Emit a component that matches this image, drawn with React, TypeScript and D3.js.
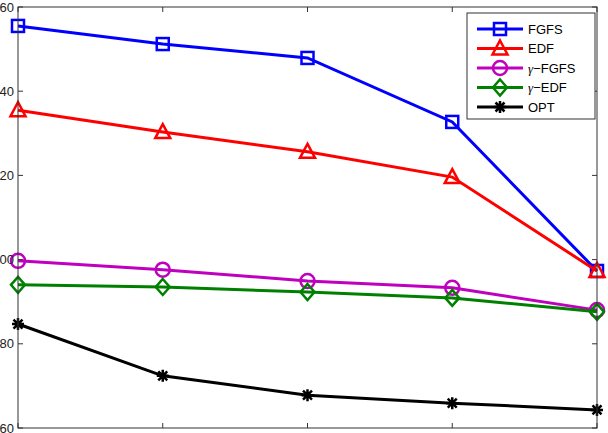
import React from 'react'
import * as d3 from 'd3'

const xs = [1, 2, 3, 4, 5]
const fgfs = [155.5, 151.2, 147.9, 132.7, 97.3]
const edf = [135.5, 130.3, 125.6, 119.6, 97.3]
const gFgfs = [99.7, 97.6, 94.9, 93.3, 88.0]
const gEdf = [94.0, 93.5, 92.3, 90.9, 87.6]
const opt = [84.7, 72.4, 67.8, 65.9, 64.3]
const yTicks = [60, 80, 100, 120, 140, 160]

const series = [
  { name: 'FGFS', prefix: '', values: fgfs, color: '#0000ff', marker: 'square' },
  { name: 'EDF', prefix: '', values: edf, color: '#ff0000', marker: 'triangle' },
  { name: '−FGFS', prefix: 'γ', values: gFgfs, color: '#bf00bf', marker: 'circle' },
  { name: '−EDF', prefix: 'γ', values: gEdf, color: '#008000', marker: 'diamond' },
  { name: 'OPT', prefix: '', values: opt, color: '#000000', marker: 'star' }
]

function Marker({ type, x, y, color }: { type: string; x: number; y: number; color: string }) {
  const common = { fill: 'none', stroke: color, strokeWidth: 2.5 }
  if (type === 'square') return <rect x={x - 6} y={y - 6} width={12} height={12} {...common} />
  if (type === 'circle') return <circle cx={x} cy={y} r={7} {...common} />
  if (type === 'triangle')
    return <path d={`M${x},${y - 8} L${x + 7.5},${y + 6} L${x - 7.5},${y + 6} Z`} {...common} />
  if (type === 'diamond')
    return <path d={`M${x},${y - 8} L${x + 7},${y} L${x},${y + 8} L${x - 7},${y} Z`} {...common} />
  // star: plus and cross overlaid
  const r = 6
  const d = r * 0.75
  return (
    <path
      d={`M${x - r},${y} L${x + r},${y} M${x},${y - r} L${x},${y + r} M${x - d},${y - d} L${x + d},${y + d} M${x - d},${y + d} L${x + d},${y - d}`}
      stroke={color}
      strokeWidth={2.5}
    />
  )
}

export default function App() {
  const width = 608
  const height = 433
  const left = 18
  const right = 597
  const top = 7
  const bottom = 428

  const x = d3.scaleLinear().domain([1, 5]).range([left, right])
  const y = d3.scaleLinear().domain([60, 160]).range([bottom, top])
  const line = d3
    .line<number>()
    .x((d, i) => x(xs[i]))
    .y(d => y(d))

  const tickLen = 5
  const legend = { x: 467, y: 13, w: 128, h: 106 }

  return (
    <svg
      width={width}
      height={height}
      style={{ position: 'absolute', left: 0, top: 0, background: '#fff' }}
      fontFamily="Liberation Sans, Arial, sans-serif"
    >
      <rect x={0} y={0} width={width} height={height} fill="#fff" />
      {series.map(s => (
        <g key={s.name}>
          <path d={line(s.values) || ''} fill="none" stroke={s.color} strokeWidth={3} />
          {s.values.map((v, i) => (
            <Marker key={i} type={s.marker} x={x(xs[i])} y={y(v)} color={s.color} />
          ))}
        </g>
      ))}

      {/* axes box and inward ticks */}
      <rect x={left} y={top} width={right - left} height={bottom - top} fill="none" stroke="#333" strokeWidth={1} />
      {yTicks.map(t => (
        <g key={t}>
          <line x1={left} x2={left + tickLen} y1={y(t)} y2={y(t)} stroke="#333" />
          <line x1={right} x2={right - tickLen} y1={y(t)} y2={y(t)} stroke="#333" />
          <text x={14} y={y(t)} dy="0.35em" textAnchor="end" fontSize={13} fill="#222">
            {t}
          </text>
        </g>
      ))}
      {xs.map(t => (
        <g key={t}>
          <line x1={x(t)} x2={x(t)} y1={bottom} y2={bottom - tickLen} stroke="#333" />
          <line x1={x(t)} x2={x(t)} y1={top} y2={top + tickLen} stroke="#333" />
        </g>
      ))}

      {/* legend */}
      <rect x={legend.x} y={legend.y} width={legend.w} height={legend.h} fill="#fff" stroke="#333" />
      {series.map((s, i) => {
        const ly = 29 + i * 19.5
        return (
          <g key={s.name}>
            <line x1={477} x2={523} y1={ly} y2={ly} stroke={s.color} strokeWidth={3} />
            <Marker type={s.marker} x={500} y={ly} color={s.color} />
            <text x={528} y={ly} dy="0.35em" fontSize={13} fill="#000">
              {s.prefix && (
                <tspan fontFamily="Liberation Serif, DejaVu Serif, serif" fontStyle="italic">
                  {s.prefix}
                </tspan>
              )}
              {s.name}
            </text>
          </g>
        )
      })}
    </svg>
  )
}
